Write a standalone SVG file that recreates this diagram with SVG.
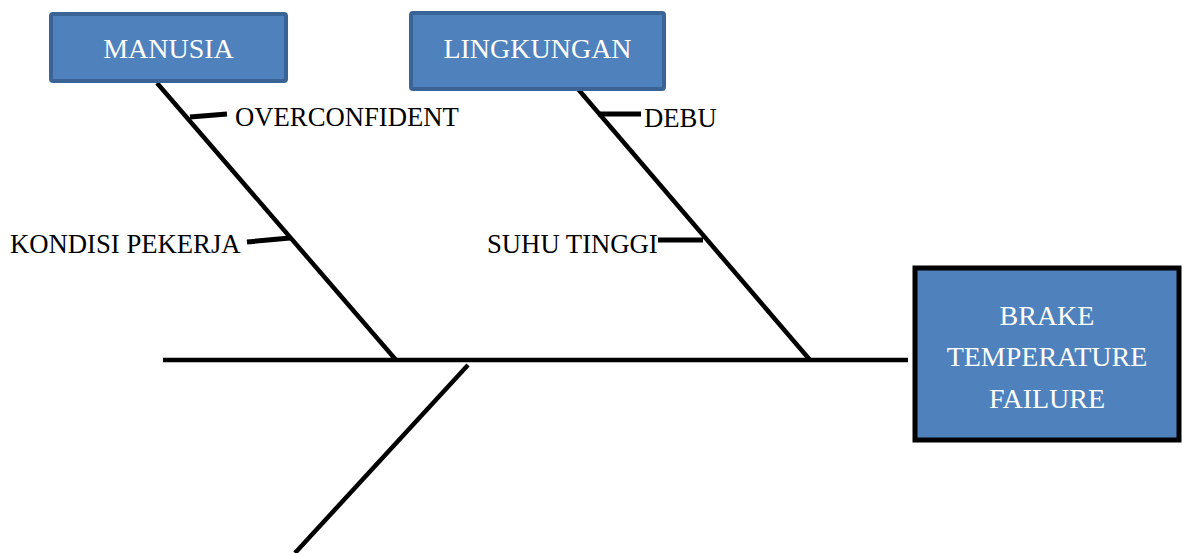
<svg xmlns="http://www.w3.org/2000/svg" width="1183" height="553" viewBox="0 0 1183 553">
  <style>
    .cat rect { fill: #4F81BD; stroke: #3A6496; stroke-width: 4; }
    .cat text { fill: #ffffff; font-family: "Liberation Serif", "Times New Roman", serif; font-size: 28px; text-anchor: middle; }
    .effect rect { fill: #4F81BD; stroke: #000000; stroke-width: 5; }
    .effect text { fill: #ffffff; font-family: "Liberation Serif", "Times New Roman", serif; font-size: 28px; text-anchor: middle; }
    .bone { stroke: #000000; stroke-width: 4.5; fill: none; }
    .tick { stroke: #000000; stroke-width: 5; fill: none; }
    .label { fill: #000000; font-family: "Liberation Serif", "Times New Roman", serif; font-size: 26.7px; }
  </style>
  <rect width="1183" height="553" fill="#ffffff"/>

  <!-- spine and bones -->
  <g id="connectors">
    <line class="bone" x1="163" y1="360" x2="908" y2="360"/>
    <line class="bone" x1="157" y1="83" x2="396" y2="360"/>
    <line class="bone" x1="578" y1="89" x2="810" y2="360"/>
    <line class="bone" x1="468" y1="365" x2="295" y2="553"/>
    <line class="tick" x1="190" y1="117" x2="227" y2="114"/>
    <line class="tick" x1="247" y1="242" x2="290" y2="238"/>
    <line class="tick" x1="598" y1="114" x2="641" y2="114"/>
    <line class="tick" x1="658" y1="240" x2="703" y2="240"/>
  </g>

  <g id="manusia" class="cat">
    <rect x="51" y="14" width="235" height="67" rx="2"/>
    <text x="168.5" y="58">MANUSIA</text>
  </g>

  <g id="lingkungan" class="cat">
    <rect x="411" y="13" width="253" height="76" rx="2"/>
    <text x="537.5" y="58">LINGKUNGAN</text>
  </g>

  <g id="brake-temperature-failure" class="effect">
    <rect x="915" y="268" width="264" height="172"/>
    <text x="1047" y="325">BRAKE</text>
    <text x="1047" y="366">TEMPERATURE</text>
    <text x="1047" y="408">FAILURE</text>
  </g>

  <g id="overconfident">
    <text class="label" x="235" y="126">OVERCONFIDENT</text>
  </g>
  <g id="kondisi-pekerja">
    <text class="label" x="10" y="253">KONDISI PEKERJA</text>
  </g>
  <g id="debu">
    <text class="label" x="644" y="127">DEBU</text>
  </g>
  <g id="suhu-tinggi">
    <text class="label" x="487" y="253">SUHU TINGGI</text>
  </g>
</svg>
